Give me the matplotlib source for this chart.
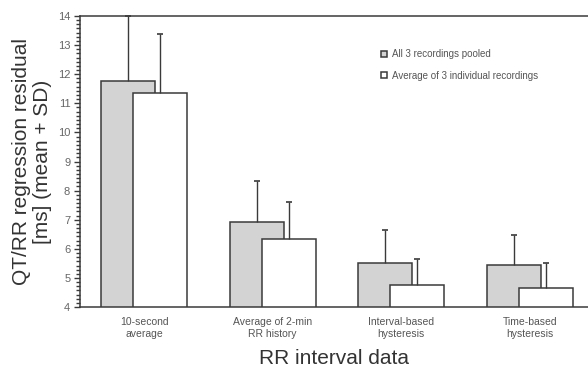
import numpy as np
import matplotlib
matplotlib.use("Agg")
import matplotlib.pyplot as plt
from matplotlib.ticker import MultipleLocator, AutoMinorLocator

plt.rcParams['font.family'] = ['Liberation Sans', 'DejaVu Sans']

# QT/RR regression residuals per RR interval model
categories = ["10-second\naverage", "Average of 2-min\nRR history",
              "Interval-based\nhysteresis", "Time-based\nhysteresis"]
pooled_mean = [11.78, 6.92, 5.50, 5.43]
pooled_sd = [2.22, 1.42, 1.15, 1.05]
indiv_mean = [11.35, 6.34, 4.76, 4.65]
indiv_sd = [2.02, 1.27, 0.90, 0.85]

x = np.arange(len(categories))
w = 0.42
off = 0.125
edge = '#3a3a3a'

fig = plt.figure(figsize=(5.88, 3.70), dpi=100)
ax = fig.add_axes([0.136, 0.170, 0.864, 0.787])


def bars_with_sd(pos, mean, sd, color, label):
    ax.bar(pos, mean, w, color=color, edgecolor=edge, linewidth=1.1, label=label)
    top = np.array(mean) + np.array(sd)
    # upper whisker only, with a short cap
    ax.vlines(pos, mean, top, color=edge, linewidth=1.0)
    ax.plot(pos, top, linestyle='none', marker='_', markersize=5,
            markeredgewidth=1.2, color=edge, clip_on=False)


bars_with_sd(x - off, pooled_mean, pooled_sd, '#d3d3d3', 'All 3 recordings pooled')
bars_with_sd(x + off, indiv_mean, indiv_sd, 'white', 'Average of 3 individual recordings')

ax.set_ylim(4, 14)
ax.set_xlim(-0.5, 3.453)
ax.yaxis.set_major_locator(MultipleLocator(1))
ax.yaxis.set_minor_locator(AutoMinorLocator(7))
ax.set_xticks(x)
ax.set_xticklabels(categories, fontsize=7.5, color='#555555', linespacing=1.3)
ax.tick_params(axis='x', length=0, pad=7)
ax.tick_params(axis='y', which='major', length=4, width=1, colors=edge,
               labelsize=8, labelcolor='#666666', pad=3)
ax.tick_params(axis='y', which='minor', length=3, width=1, colors=edge)

ax.spines['right'].set_visible(False)
for s in ['left', 'top', 'bottom']:
    ax.spines[s].set_color(edge)
    ax.spines[s].set_linewidth(1.1)

ax.set_ylabel("QT/RR regression residual\n[ms] (mean + SD)", fontsize=15,
              color='#333333', labelpad=4, linespacing=1.15)
ax.set_xlabel("RR interval data", fontsize=15, color='#333333', labelpad=7)

ax.legend(loc='upper left', bbox_to_anchor=(0.575, 0.915), frameon=False,
          fontsize=7, handlelength=0.6, handleheight=0.6, handletextpad=0.5,
          labelspacing=1.15, labelcolor='#555555')

fig.savefig("out.png", dpi=100)
